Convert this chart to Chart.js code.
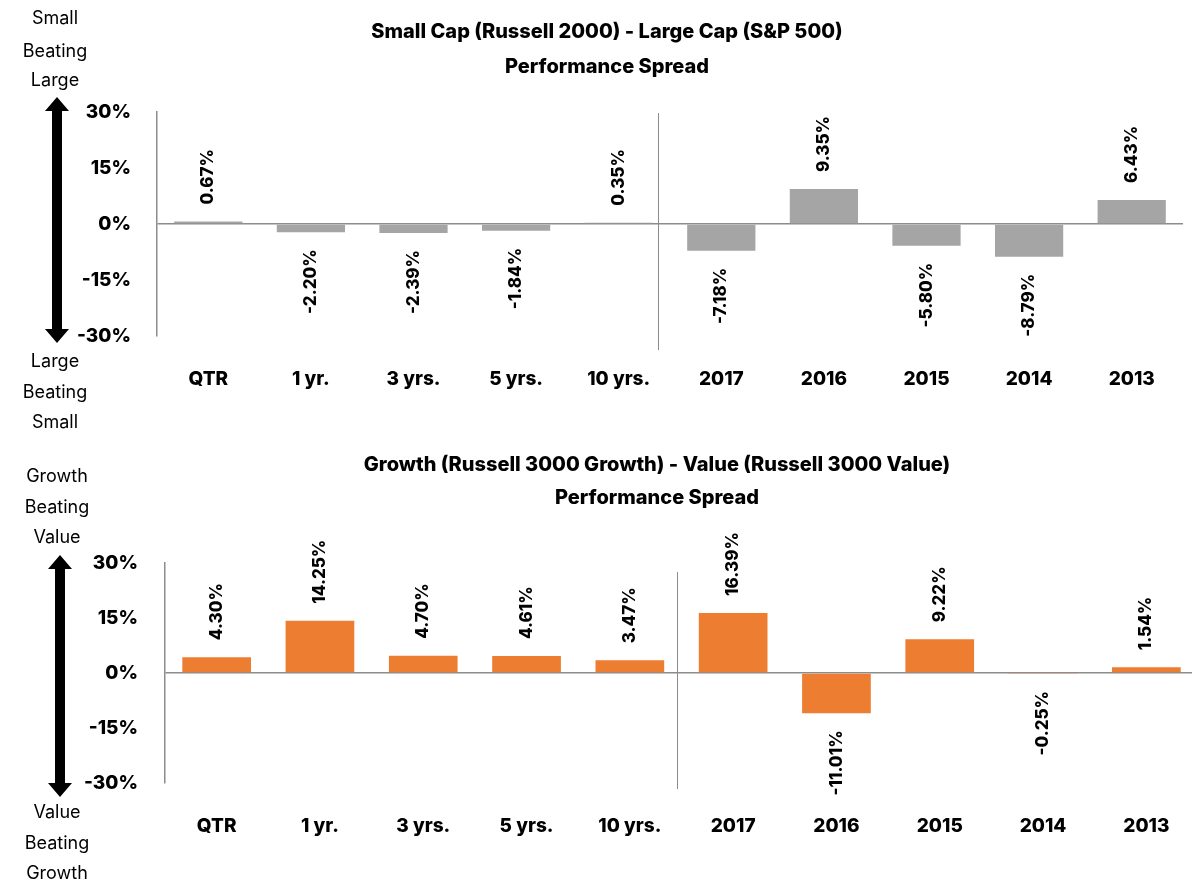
<!DOCTYPE html>
<html>
<head>
<meta charset="utf-8">
<script src="https://cdn.jsdelivr.net/npm/chart.js@4.4.0/dist/chart.umd.min.js"></script>
<style>
  html, body { margin: 0; padding: 0; background: #fff; overflow: hidden; }
  .chart-box { position: absolute; left: 0; }
</style>
</head>
<body>
<div class="chart-box" style="top:0;width:1192px;height:442px"><canvas id="size-spread"></canvas></div>
<div class="chart-box" style="top:442px;width:1200px;height:443px"><canvas id="style-spread"></canvas></div>
<script>
// Periods on the x axis
const periods = ['QTR', '1 yr.', '3 yrs.', '5 yrs.', '10 yrs.', '2017', '2016', '2015', '2014', '2013'];

// Spreads, in percent
const smallMinusLarge = [0.67, -2.20, -2.39, -1.84, 0.35, -7.18, 9.35, -5.80, -8.79, 6.43];
const growthMinusValue = [4.30, 14.25, 4.70, 4.61, 3.47, 16.39, -11.01, 9.22, -0.25, 1.54];

// Y axis ticks
const yTicks = [-30, -15, 0, 15, 30];

// Titles and side captions
const sizeTitle = ['Small Cap (Russell 2000) - Large Cap (S&P 500)', 'Performance Spread'];
const styleTitle = ['Growth (Russell 3000 Growth) - Value (Russell 3000 Value)', 'Performance Spread'];
const sizeUpText = ['Small', 'Beating', 'Large'];
const sizeDownText = ['Large', 'Beating', 'Small'];
const styleUpText = ['Growth', 'Beating', 'Value'];
const styleDownText = ['Value', 'Beating', 'Growth'];

const FONT = 'Inter, Lato, sans-serif';
const AXIS_GRAY = '#8c8c8c';

// Titles, captions, arrow, divider and rotated value labels
const decorPlugin = {
  id: 'decor',
  afterDatasetsDraw(chart, args, o) {
    const { ctx, chartArea, scales } = chart;
    ctx.save();

    // divider between trailing periods and calendar years
    const dx = Math.round(scales.x.getPixelForValue(o.dividerAt)) + 0.5;
    ctx.strokeStyle = AXIS_GRAY;
    ctx.lineWidth = 1;
    ctx.beginPath();
    ctx.moveTo(dx, chartArea.top + o.dividerTop);
    ctx.lineTo(dx, chartArea.bottom + o.dividerBottom);
    ctx.stroke();

    // value labels, rotated
    ctx.fillStyle = '#000';
    ctx.font = '800 17px ' + FONT;
    ctx.textBaseline = 'middle';
    const values = chart.data.datasets[0].data;
    chart.getDatasetMeta(0).data.forEach((bar, i) => {
      const v = values[i];
      const up = v >= 0;
      ctx.save();
      ctx.translate(bar.x, up ? bar.y - o.labelGap : bar.y + o.labelGap);
      ctx.rotate(-Math.PI / 2);
      ctx.textAlign = up ? 'left' : 'right';
      ctx.fillText(v.toFixed(2) + '%', 0, 0);
      ctx.restore();
    });

    // title
    ctx.textAlign = 'center';
    ctx.font = '800 20px ' + FONT;
    o.title.forEach((line, i) => ctx.fillText(line, o.titleX, o.titleY[i]));

    // side captions
    ctx.font = '18px ' + FONT;
    o.upText.forEach((t, i) => ctx.fillText(t, o.sideX, o.upY[i]));
    o.downText.forEach((t, i) => ctx.fillText(t, o.sideX, o.downY[i]));

    // double headed arrow
    const a = o.arrow;
    const sw = 5, hw = 12, hl = 14;
    ctx.fillStyle = '#000';
    ctx.beginPath();
    ctx.moveTo(a.x, a.top);
    ctx.lineTo(a.x + hw, a.top + hl);
    ctx.lineTo(a.x + sw, a.top + hl);
    ctx.lineTo(a.x + sw, a.bottom - hl);
    ctx.lineTo(a.x + hw, a.bottom - hl);
    ctx.lineTo(a.x, a.bottom);
    ctx.lineTo(a.x - hw, a.bottom - hl);
    ctx.lineTo(a.x - sw, a.bottom - hl);
    ctx.lineTo(a.x - sw, a.top + hl);
    ctx.lineTo(a.x - hw, a.top + hl);
    ctx.closePath();
    ctx.fill();

    ctx.restore();
  },
};

const makeSpreadChart = (id, values, color, lay, decor) => {
  const el = document.getElementById(id);
  if (!el) return;

  return new Chart(el, {
    type: 'bar',
    data: {
      labels: periods,
      datasets: [
        {
          data: values,
          backgroundColor: color,
          borderWidth: 0,
          categoryPercentage: 1,
          barPercentage: 0.665,
        },
      ],
    },
    options: {
      responsive: true,
      maintainAspectRatio: false,
      animation: false,
      layout: {
        padding: { left: 0, top: lay.top, right: lay.right, bottom: 0 },
      },
      scales: {
        x: {
          grid: { display: false },
          border: { display: false },
          ticks: {
            color: '#000',
            padding: 24,
            maxRotation: 0,
            font: { family: FONT, size: 19, weight: '800' },
          },
          afterFit: (s) => { s.height = lay.xHeight; },
        },
        y: {
          min: -30,
          max: 30,
          afterBuildTicks: (s) => { s.ticks = yTicks.map((v) => ({ value: v })); },
          ticks: {
            color: '#000',
            padding: lay.yPad,
            callback: (v) => v + '%',
            font: { family: FONT, size: 19, weight: '800' },
          },
          grid: {
            drawTicks: false,
            lineWidth: 1.5,
            color: (c) => (c.tick && c.tick.value === 0 ? AXIS_GRAY : 'rgba(0,0,0,0)'),
          },
          border: { display: true, color: AXIS_GRAY, width: 1.5 },
          afterFit: (s) => { s.width = lay.yWidth; },
        },
      },
      plugins: {
        legend: { display: false },
        tooltip: { enabled: false },
        decor,
      },
    },
    plugins: [decorPlugin],
  });
};

// Small cap vs large cap
makeSpreadChart('size-spread', smallMinusLarge, '#a5a5a5',
  { top: 112, right: 9, xHeight: 106, yWidth: 157, yPad: 26 },
  {
    dividerAt: 4.383, dividerTop: 1, dividerBottom: 14, labelGap: 17,
    title: sizeTitle, titleX: 607, titleY: [32, 67],
    sideX: 55, upText: sizeUpText, upY: [19, 52, 81], downText: sizeDownText, downY: [362, 393, 423],
    arrow: { x: 57, top: 97, bottom: 343 },
  });

// Growth vs value
makeSpreadChart('style-spread', growthMinusValue, '#ed7d31',
  { top: 121, right: 2, xHeight: 102, yWidth: 165, yPad: 27 },
  {
    dividerAt: 4.456, dividerTop: 9, dividerBottom: 6, labelGap: 17,
    title: styleTitle, titleX: 657, titleY: [23, 56],
    sideX: 57, upText: styleUpText, upY: [35, 66, 96], downText: styleDownText, downY: [371, 402, 432],
    arrow: { x: 60, top: 113, bottom: 355 },
  });
</script>
</body>
</html>
